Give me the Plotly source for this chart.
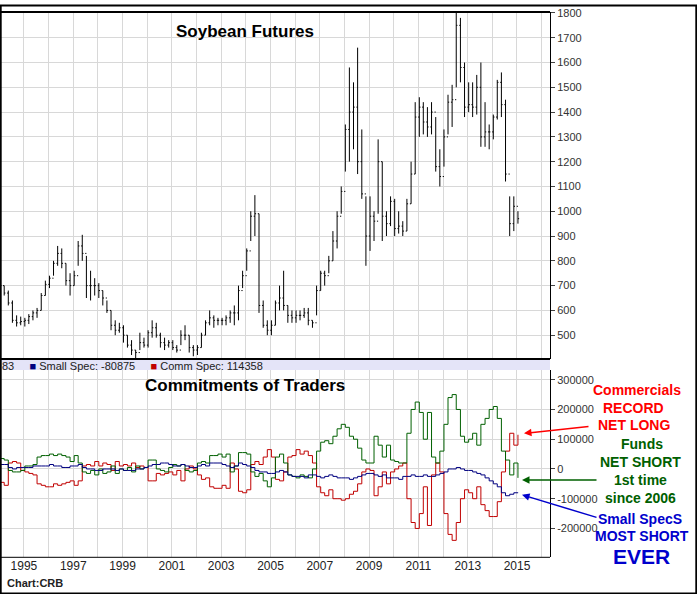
import pandas as pd
import plotly.graph_objects as go

W, H = 697, 594
# bimonthly bars, Jan 1994 .. Jan 2015
dates = pd.date_range("1994-01-01", periods=127, freq="2MS") + pd.Timedelta(days=14)

price_high = [720,700,680,640,580,575, 570,585,600,610,670,720, 740,800,860,850,790,750,
    760,880,905,820,760,730, 710,680,640,600,560,550, 540,500,480,440,510,490,
    520,560,550,510,490,480, 480,460,520,540,500,460, 460,510,560,600,580,570,
    570,580,600,620,700,760, 850,1000,1065,990,640,560, 560,640,700,760,620,600,
    600,600,610,610,560,700, 760,760,820,920,1000,1100, 1350,1580,1520,1660,1330,1060,
    1060,1000,1290,1200,1000,1060, 1050,1000,960,1050,1200,1440, 1460,1440,1420,1440,1380,1250,
    1330,1470,1510,1800,1780,1600, 1520,1520,1550,1600,1440,1350, 1390,1530,1560,1450,1060,1060, 1000]
price_low = [680,660,620,550,535,540, 535,545,560,570,600,660, 690,740,780,770,700,660,
    700,780,800,650,640,660, 650,620,590,520,500,510, 470,450,420,405,440,450,
    450,490,490,450,440,450, 440,430,460,480,430,415, 420,450,500,540,530,540,
    540,540,550,540,560,690, 760,880,900,590,530,500, 500,540,600,600,550,550,
    550,560,570,540,530,580, 680,700,750,800,850,990, 1160,1200,1250,1150,1050,780,
    840,880,990,880,900,940, 900,910,900,920,1030,1150, 1300,1310,1300,1310,1160,1100,
    1180,1310,1340,1500,1520,1380, 1400,1380,1390,1260,1260,1250, 1290,1370,1380,1120,900,920, 950]
price_close = [700,670,630,560,550,555, 560,575,590,600,660,705, 730,790,830,790,720,700,
    740,860,830,700,700,700, 680,650,600,540,520,530, 500,460,440,430,470,460,
    510,530,500,470,460,470, 450,440,500,500,450,440, 450,500,550,570,560,560,
    560,570,590,590,680,740, 840,980,990,620,540,520, 540,630,650,620,580,570,
    580,580,590,560,550,680, 750,740,800,880,980,1080, 1330,1400,1420,1200,1070,900,
    980,960,1200,980,950,1040, 930,940,920,1030,1150,1380, 1420,1360,1340,1400,1180,1140,
    1300,1440,1450,1750,1580,1420, 1430,1420,1500,1300,1320,1320, 1380,1520,1430,1150,950,1020, 970]

funds = [35,30,-5,-10,-10,-5, 10,10,15,40,45,45, 50,45,50,45,40,25, 45,20,-10,-15,-5,-20,
    0,-15,-10,10,-15,0, -5,5,-10,10,0,5, 30,30,0,-5,-10,5, 15,10,15,-5,-10,-5,
    20,25,20,45,45,50, 40,50,-10,10,55,55, 50,-10,-25,-15,-40,-60, -30,40,50,20,-20,-25,
    -30,-20,-25,-30,0,60, 90,95,85,110,135,150, 140,110,100,70,30,20, 20,110,80,40,80,30,
    25,20,20,120,200,225, 190,100,190,40,20,60, 150,240,250,200,110,90, 100,120,80,150,170,200,
    210,170,60,30,-20,20, -30]
comm = [-45,-55,20,25,20,-5, -10,-15,-20,-50,-55,-60, -60,-50,-55,-50,-45,-40, -55,-40,10,15,10,25,
    10,20,15,-5,25,10, 15,10,20,5,10,5, -40,-40,-15,-20,-15,-10, -20,-5,-40,0,10,0,
    -20,-35,-30,-60,-65,-65, -55,-65,20,0,-75,-80, -70,15,25,15,40,65, 40,-35,-40,-10,40,45,
    65,50,60,45,20,-60, -80,-90,-70,-100,-100,-105, -100,-85,-75,-50,-10,0, -5,-90,-60,-10,-50,-10,
    0,10,20,-100,-180,-200, -150,-60,-190,-20,20,-10, -150,-220,-240,-180,-100,-70, -80,-100,-60,-120,-140,-160,
    -160,-110,-10,60,120,80, 115]
small = [15,15,5,0,5,5, 5,5,10,10,10,10, 15,10,10,5,5,10, 10,15,5,0,0,-5,
    -5,0,0,0,-5,0, -5,-5,-5,0,0,5, 10,15,15,20,20,15, 10,10,15,10,5,5,
    10,15,10,20,20,20, 15,10,5,10,20,15, 10,5,-5,-10,-10,-15, -15,-10,-5,-10,-20,-25,
    -25,-25,-30,-20,-20,-25, -30,-25,-20,-25,-30,-30, -30,-35,-30,-25,-20,-15, -15,-20,-25,-20,-30,-30,
    -30,-35,-25,-25,-20,-25, -25,-20,-25,-25,-20,-15, -10,0,0,5,0,-5, -5,-10,-15,-20,-30,-40,
    -50,-60,-80,-90,-85,-80, -81]

years = list(range(1994, 2017))
year_labels = [str(y) if y % 2 == 1 and y <= 2015 else "" for y in years]
price_ticks = list(range(500, 1900, 100))
cot_ticks = [-200000, -100000, 0, 100000, 200000, 300000]

price_open = [price_close[0]] + price_close[:-1]

def px_y(p):
    return (H - p) / H

xr = ["1994-01-12", "2016-05-04"]
xd = [0, 550 / W]
font = "Liberation Sans, Arial, sans-serif"
tickfont = dict(family=font, size=11, color="#333")

fig = go.Figure()
fig.add_trace(go.Ohlc(x=dates, open=price_open, high=price_high, low=price_low, close=price_close,
    increasing=dict(line=dict(color="black", width=1)), decreasing=dict(line=dict(color="black", width=1)),
    tickwidth=0.3, xaxis="x", yaxis="y", showlegend=False, hoverinfo="skip"))
for vals, col in [(comm, "#c00000"), (funds, "#006000"), (small, "#000080")]:
    fig.add_trace(go.Scatter(x=dates, y=[v * 1000 for v in vals], mode="lines", line=dict(color=col, width=1, shape="hv"),
        xaxis="x2", yaxis="y2", showlegend=False, hoverinfo="skip"))

grid = "#d8d8d8"
tickvals = [f"{y}-01-01" for y in years]
fig.update_layout(
    width=W, height=H, margin=dict(l=0, r=0, t=0, b=0),
    paper_bgcolor="white", plot_bgcolor="white",
    xaxis=dict(domain=xd, range=xr, type="date", anchor="y", tickvals=tickvals, ticktext=[""] * len(years),
               showgrid=True, gridcolor=grid, rangeslider=dict(visible=False), ticks="", zeroline=False),
    xaxis2=dict(domain=xd, range=xr, type="date", anchor="y2", matches="x", tickvals=tickvals, ticktext=year_labels,
                showgrid=True, gridcolor=grid, ticks="", tickfont=dict(family=font, size=12, color="#222")),
    yaxis=dict(domain=[px_y(357), px_y(7)], range=[404, 1804], side="right", tickvals=price_ticks,
               showgrid=True, gridcolor=grid, ticks="outside", ticklen=4, tickcolor="#444", tickfont=tickfont,
               showline=True, linecolor="black", linewidth=1, zeroline=False),
    yaxis2=dict(domain=[px_y(557), px_y(368)], range=[-297000, 333000], side="right", tickvals=cot_ticks,
                ticktext=[str(v) for v in cot_ticks], showgrid=True, gridcolor=grid, ticks="outside", ticklen=4,
                tickcolor="#444", tickfont=tickfont, showline=True, linecolor="black", linewidth=1, zeroline=False),
)

shapes = [
    dict(type="rect", xref="paper", yref="paper", x0=0, x1=550 / W, y0=px_y(368), y1=px_y(358),
         fillcolor="#e4e4f8", line=dict(width=0), layer="below"),
    dict(type="line", xref="paper", yref="paper", x0=0, x1=550 / W, y0=px_y(357), y1=px_y(357), line=dict(color="black", width=2)),
    dict(type="line", xref="paper", yref="paper", x0=0, x1=550 / W, y0=px_y(7), y1=px_y(7), line=dict(color="black", width=2)),
    dict(type="line", xref="paper", yref="paper", x0=0, x1=550 / W, y0=px_y(557), y1=px_y(557), line=dict(color="black", width=1)),
    dict(type="rect", xref="paper", yref="paper", x0=0.001, x1=0.999, y0=0.001, y1=0.999, line=dict(color="black", width=2)),
]
fig.update_layout(shapes=shapes)

def ann(text, x, y, color, size=14, bold=True, xanchor="center"):
    return dict(text=f"<b>{text}</b>" if bold else text, x=x / W, y=px_y(y), xref="paper", yref="paper",
                showarrow=False, xanchor=xanchor, yanchor="middle", font=dict(family=font, size=size, color=color))

annotations = [
    ann("Soybean Futures", 245, 27, "black", 17),
    ann("Commitments of Traders", 245, 384, "black", 17),
    ann("83     <span style='color:#000080'>■</span> Small Spec: -80875     <span style='color:#c00000'>■</span> Comm Spec: 114358",
        0, 364, "#222", 11, bold=False, xanchor="left"),
    ann("Chart:CRB", 5, 583, "#222", 11, xanchor="left"),
    ann("Commercials", 637, 388, "#ff0000"),
    ann("RECORD", 633, 406, "#ff0000"),
    ann("NET LONG", 634, 424, "#ff0000"),
    ann("Funds", 642, 443, "#006000"),
    ann("NET SHORT", 640, 461, "#006000"),
    ann("1st time", 640, 479, "#006000"),
    ann("since 2006", 640, 497, "#006000"),
    ann("Small SpecS", 640, 518, "#0000cc"),
    ann("MOST SHORT", 642, 536, "#0000cc"),
    ann("EVER", 641, 556, "#0000cc", 21),
]
arrows = [((590, 425), (524, 432), "#ff0000"), ((598, 479), (522, 479), "#006000"), ((598, 517), (522, 494), "#0000cc")]
for (x0, y0), (x1, y1), c in arrows:
    annotations.append(dict(x=x1 / W, y=px_y(y1), xref="paper", yref="paper", ax=x0 - x1, ay=y0 - y1,
                            text="", showarrow=True, arrowhead=2, arrowsize=1,
                            arrowwidth=1.5, arrowcolor=c))
fig.update_layout(annotations=annotations)
fig.write_html("out.html", config={"displayModeBar": False},
               post_script="document.body.style.margin='0';document.body.style.overflow='hidden';")
